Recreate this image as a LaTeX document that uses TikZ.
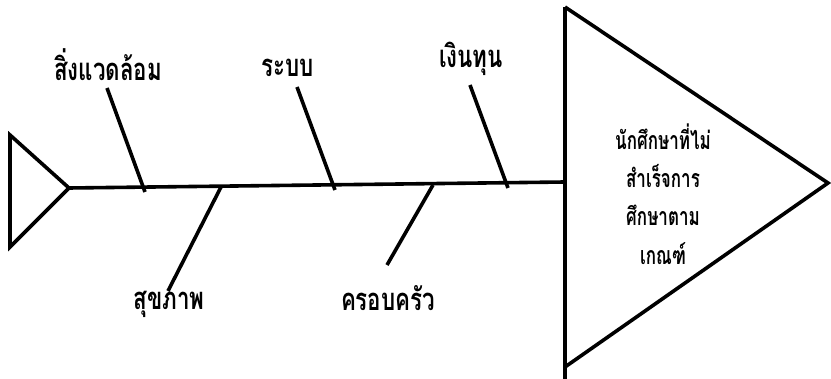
\documentclass[tikz,border=0pt]{standalone}
\usepackage{fontspec}
\setmainfont[Script=Thai]{Loma}
\newfontfamily\lblfont[Script=Thai, FakeStretch=0.72]{Loma}
\newfontfamily\headfont[Script=Thai, FakeStretch=0.68]{Loma}
\begin{document}
\begin{tikzpicture}[x=1pt,y=-1pt,
  bone/.style={line width=3.6pt},
  lbl/.style={font=\lblfont\fontsize{31}{34}\selectfont\bfseries, inner sep=0pt, anchor=base},
  headtxt/.style={font=\headfont\fontsize{25}{28}\selectfont\bfseries, inner sep=0pt, anchor=base}]
\useasboundingbox (0,0) rectangle (831,379);
% tail
\coordinate (t1) at (10,135);
\coordinate (t2) at (10,247);
\coordinate (tt) at (69,188);
\draw[bone, line join=miter] (t1) -- (tt) -- (t2) -- cycle;
% head
\coordinate (h1) at (565,7);
\coordinate (h2) at (828,183);
\coordinate (h3) at (565,367);
\coordinate (hb) at (565,379);
\draw[bone, line join=miter] (h1) -- (h2) -- (h3);
\draw[bone] (h1) -- (hb);
% spine
\coordinate (sp) at (565,182);
\draw[bone] (tt) -- (sp);
% bones
\coordinate (a1) at (107,88);  \coordinate (a2) at (145,192);
\coordinate (b1) at (297,87);  \coordinate (b2) at (335,190);
\coordinate (c1) at (470,85);  \coordinate (c2) at (508,188);
\coordinate (d1) at (221,187); \coordinate (d2) at (168,291);
\coordinate (e1) at (433,185); \coordinate (e2) at (387,265);
\draw[bone] (a1) -- (a2);
\draw[bone] (b1) -- (b2);
\draw[bone] (c1) -- (c2);
\draw[bone] (d1) -- (d2);
\draw[bone] (e1) -- (e2);
% labels
\node[lbl] (la) at (108,81) {สิ่งแวดล้อม};
\node[lbl] (lb) at (288,77) {ระบบ};
\node[lbl] (lc) at (471,68) {เงินทุน};
\node[lbl] (ld) at (169,310) {สุขภาพ};
\node[lbl] (le) at (388,311) {ครอบครัว};
\node[headtxt] (ht1) at (663,150) {นักศึกษาที่ไม่};
\node[headtxt] (ht2) at (663,188) {สำเร็จการ};
\node[headtxt] (ht3) at (663,226) {ศึกษาตาม};
\node[headtxt] (ht4) at (663,265) {เกณฑ์};
\end{tikzpicture}
\end{document}
